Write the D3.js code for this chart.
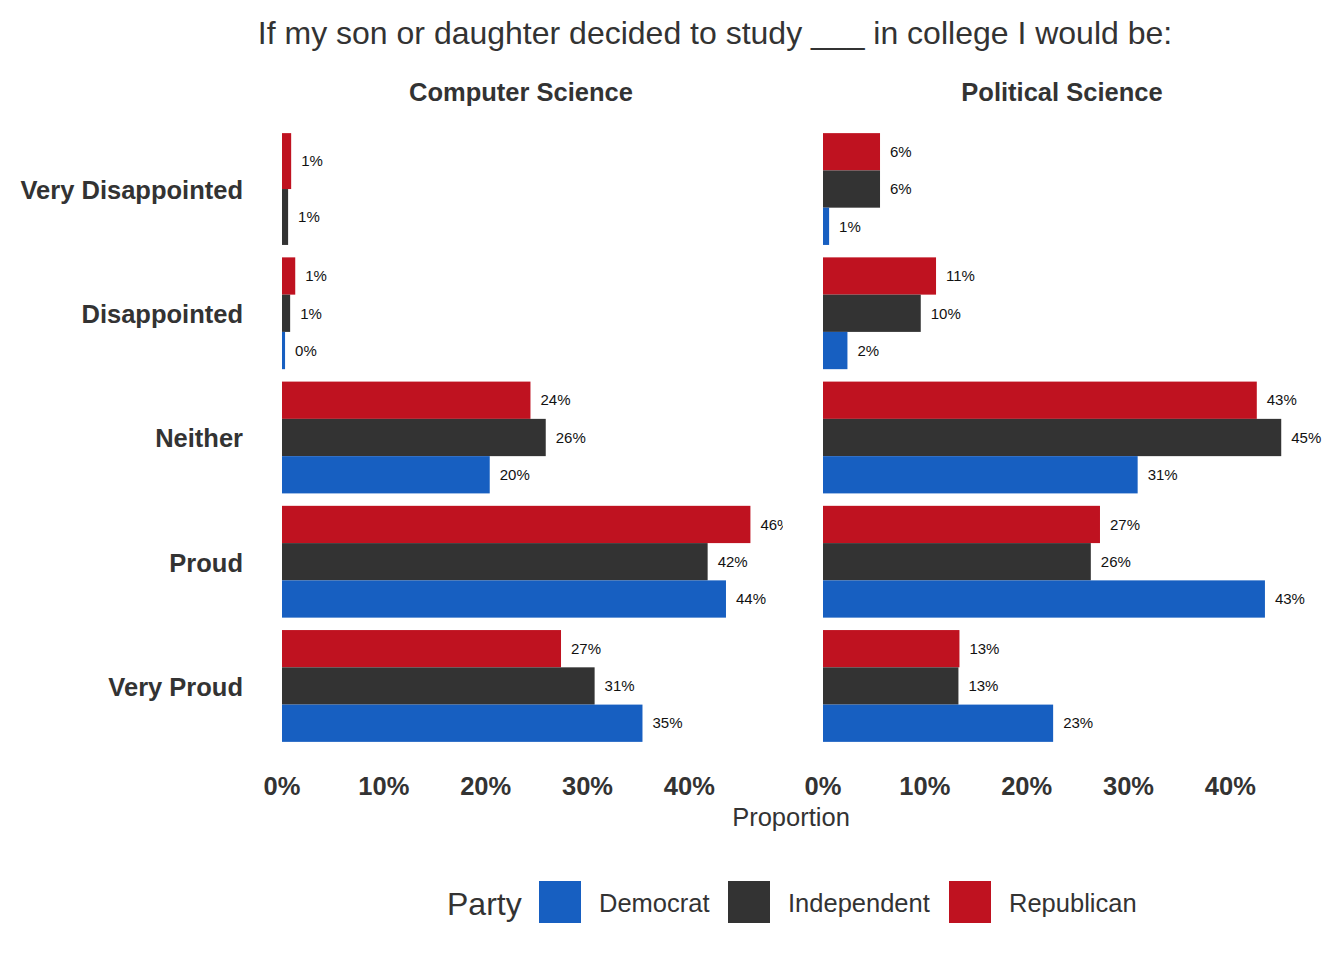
<!DOCTYPE html>
<html>
<head>
<meta charset="utf-8">
<script src="https://cdn.jsdelivr.net/npm/d3@7"></script>
<style>
  body { margin: 0; background: #fff; }
  text { font-family: "Liberation Sans", Arial, sans-serif; }
</style>
</head>
<body>
<svg id="chart" width="1344" height="960"></svg>
<script>
'use strict';

const categories = ["Very Disappointed", "Disappointed", "Neither", "Proud", "Very Proud"];
const subjects = ["Computer Science", "Political Science"];
const parties = ["Democrat", "Independent", "Republican"];
const partyColors = ["#175FC1", "#333333", "#BF1220"];
const xTicks = [0, 0.1, 0.2, 0.3, 0.4];

// proportions per category, null = no answer in that group
const csDemocrat = [null, 0.003, 0.204, 0.436, 0.354];
const csIndependent = [0.006, 0.008, 0.259, 0.418, 0.307];
const csRepublican = [0.009, 0.013, 0.244, 0.460, 0.274];
const psDemocrat = [0.006, 0.024, 0.309, 0.434, 0.226];
const psIndependent = [0.056, 0.096, 0.450, 0.263, 0.133];
const psRepublican = [0.056, 0.111, 0.426, 0.272, 0.134];

const seriesBySubject = {
  "Computer Science": [csDemocrat, csIndependent, csRepublican],
  "Political Science": [psDemocrat, psIndependent, psRepublican]
};

const svg = d3.select('#chart');

const panelX = { "Computer Science": 282, "Political Science": 823 };
const stripX = { "Computer Science": 521, "Political Science": 1062 };
const panelW = 501;
const yTop = 114.5, yBot = 760.5;

const x = d3.scaleLinear().domain([0, 0.492]).range([0, panelW]);
const y = d3.scalePoint().domain(categories).range([yTop, yBot]).padding(0.6);
const groupW = y.step() * 0.9;

// title
svg.append('text')
  .attr('x', 715).attr('y', 44)
  .attr('text-anchor', 'middle')
  .attr('font-size', 32).attr('fill', '#333')
  .text('If my son or daughter decided to study ___ in college I would be:');

// y labels
svg.append('g').selectAll('text')
  .data(categories).enter().append('text')
  .attr('x', 243).attr('y', d => y(d) + 1)
  .attr('dy', '0.35em')
  .attr('text-anchor', 'end')
  .attr('font-size', 25.5).attr('font-weight', 'bold').attr('fill', '#333')
  .text(d => d);

subjects.forEach((subj, si) => {
  const px = panelX[subj];
  const g = svg.append('g').attr('transform', `translate(${px},0)`);

  svg.append('defs').append('clipPath').attr('id', 'clip' + si)
    .append('rect').attr('x', 0).attr('y', yTop).attr('width', panelW).attr('height', yBot - yTop);

  // strip label
  svg.append('text')
    .attr('x', stripX[subj]).attr('y', 101)
    .attr('text-anchor', 'middle')
    .attr('font-size', 25.5).attr('font-weight', 'bold').attr('fill', '#333')
    .text(subj);

  // build bars: dodge only the groups that exist, Republican on top
  const bars = [];
  categories.forEach((cat, ci) => {
    const present = [];
    for (let p = parties.length - 1; p >= 0; p--) {
      const v = seriesBySubject[subj][p][ci];
      if (v !== null) present.push({ party: p, value: v });
    }
    const bh = groupW / present.length;
    present.forEach((d, k) => {
      bars.push({
        cat, party: d.party, value: d.value,
        y0: y(cat) - groupW / 2 + k * bh, h: bh
      });
    });
  });

  const plot = g.append('g').attr('clip-path', `url(#clip${si})`);

  plot.selectAll('rect')
    .data(bars).enter().append('rect')
    .attr('x', 0)
    .attr('y', d => d.y0)
    .attr('width', d => x(d.value))
    .attr('height', d => d.h)
    .attr('fill', d => partyColors[d.party]);

  plot.selectAll('text')
    .data(bars).enter().append('text')
    .attr('x', d => x(d.value) + 10)
    .attr('y', d => d.y0 + d.h / 2)
    .attr('dy', '0.35em')
    .attr('font-size', 15).attr('fill', '#111')
    .text(d => Math.round(d.value * 100) + '%');

  // x axis ticks
  g.append('g').selectAll('text')
    .data(xTicks).enter().append('text')
    .attr('x', d => x(d)).attr('y', 795)
    .attr('text-anchor', 'middle')
    .attr('font-size', 25.5).attr('font-weight', 'bold').attr('fill', '#333')
    .text(d => d3.format('.0%')(d));
});

svg.append('text')
  .attr('x', 791).attr('y', 826)
  .attr('text-anchor', 'middle')
  .attr('font-size', 25.5).attr('fill', '#333')
  .text('Proportion');

// legend
const legend = svg.append('g');
legend.append('text')
  .attr('x', 447).attr('y', 915)
  .attr('font-size', 32).attr('fill', '#333')
  .text('Party');
const legendX = [539, 728, 949];
parties.forEach((p, i) => {
  legend.append('rect')
    .attr('x', legendX[i]).attr('y', 881)
    .attr('width', 42).attr('height', 42)
    .attr('fill', partyColors[i]);
  legend.append('text')
    .attr('x', legendX[i] + 60).attr('y', 912)
    .attr('font-size', 25.5).attr('fill', '#333')
    .text(p);
});
</script>
</body>
</html>
